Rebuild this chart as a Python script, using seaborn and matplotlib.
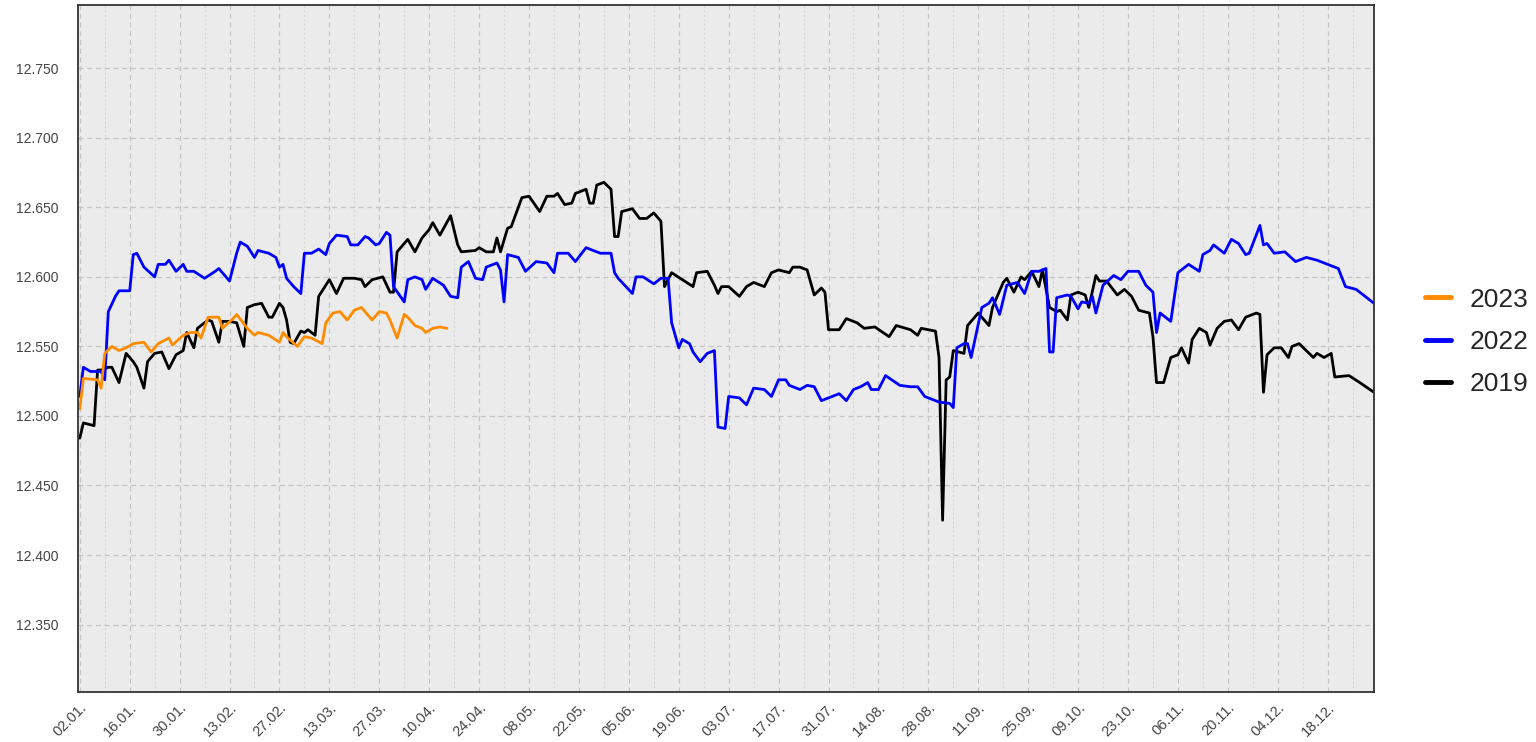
import pandas as pd
import matplotlib
matplotlib.use("Agg")
import matplotlib.pyplot as plt
import matplotlib.dates as mdates
from matplotlib.lines import Line2D
import seaborn as sns

# days counted from 02.01.
day_2023 = [0, 1, 5, 6, 7, 9, 11, 13, 15, 18, 20, 22, 25, 26, 29, 31, 33, 34, 36, 39,
            40, 43, 44, 47, 49, 50, 53, 56, 57, 58, 61, 63, 65, 68, 69, 71, 73, 75, 77, 79,
            80, 82, 84, 86, 87, 89, 91, 92, 94, 96, 97, 99, 101, 103]
val_2023 = [12.505, 12.527, 12.526, 12.520, 12.545, 12.550, 12.547, 12.549, 12.552, 12.553,
            12.546, 12.552, 12.556, 12.551, 12.558, 12.560, 12.560, 12.556, 12.571, 12.571,
            12.563, 12.570, 12.573, 12.563, 12.558, 12.560, 12.558, 12.553, 12.560, 12.557,
            12.550, 12.557, 12.556, 12.552, 12.567, 12.574, 12.575, 12.569, 12.576, 12.578,
            12.575, 12.569, 12.575, 12.574, 12.569, 12.556, 12.573, 12.571, 12.565, 12.563,
            12.560, 12.563, 12.564, 12.563]

day_2022 = [0, 1, 3, 6, 7, 8, 10, 11, 14, 15, 16, 18, 21, 22, 24, 25, 27, 29, 30, 32,
            35, 38, 39, 42, 44, 45, 47, 49, 50, 53, 55, 56, 57, 58, 60, 62, 63, 65, 67, 69,
            70, 72, 75, 76, 78, 80, 81, 83, 84, 86, 87, 88, 91, 92, 94, 96, 97, 99, 102, 104,
            106, 107, 109, 111, 113, 114, 117, 118, 119, 120, 123, 125, 128, 131, 133, 134, 137, 139, 142, 144,
            146, 149, 150, 151, 155, 156, 158, 161, 163, 165, 166, 168, 169, 171, 172, 174, 176, 178, 179, 181,
            182, 185, 187, 189, 192, 194, 196, 198, 199, 202, 204, 206, 208, 210, 213, 215, 217, 219, 221, 222,
            224, 226, 230, 233, 235, 237, 241, 244, 245, 246, 248, 249, 250, 253, 255, 256, 258, 260, 263, 265,
            267, 269, 271, 272, 273, 274, 277, 278, 280, 281, 283, 284, 285, 287, 290, 292, 294, 297, 299, 301,
            302, 303, 306, 308, 311, 314, 315, 317, 318, 321, 323, 325, 327, 328, 331, 332, 333, 335, 338, 341,
            344, 347, 349, 353, 355, 358, 363]
val_2022 = [12.514, 12.535, 12.532, 12.532, 12.526, 12.575, 12.586, 12.590, 12.590, 12.616,
            12.617, 12.607, 12.600, 12.609, 12.609, 12.612, 12.604, 12.609, 12.604, 12.604,
            12.599, 12.604, 12.606, 12.597, 12.617, 12.625, 12.622, 12.614, 12.619, 12.617,
            12.614, 12.607, 12.609, 12.599, 12.593, 12.588, 12.617, 12.617, 12.620, 12.616,
            12.624, 12.630, 12.629, 12.623, 12.623, 12.629, 12.628, 12.623, 12.624, 12.632,
            12.630, 12.593, 12.582, 12.598, 12.600, 12.598, 12.591, 12.599, 12.594, 12.586,
            12.585, 12.607, 12.611, 12.599, 12.598, 12.607, 12.610, 12.605, 12.582, 12.616,
            12.614, 12.604, 12.611, 12.610, 12.603, 12.617, 12.617, 12.611, 12.621, 12.619,
            12.617, 12.617, 12.603, 12.599, 12.588, 12.600, 12.600, 12.595, 12.599, 12.599,
            12.567, 12.549, 12.555, 12.552, 12.546, 12.539, 12.545, 12.547, 12.492, 12.491,
            12.514, 12.513, 12.508, 12.520, 12.519, 12.514, 12.526, 12.526, 12.522, 12.519,
            12.522, 12.521, 12.511, 12.513, 12.516, 12.511, 12.519, 12.521, 12.524, 12.519,
            12.519, 12.529, 12.522, 12.521, 12.521, 12.514, 12.510, 12.509, 12.506, 12.549,
            12.552, 12.552, 12.542, 12.578, 12.581, 12.585, 12.573, 12.594, 12.596, 12.588,
            12.604, 12.604, 12.606, 12.546, 12.546, 12.585, 12.587, 12.586, 12.577, 12.582,
            12.581, 12.586, 12.574, 12.594, 12.601, 12.598, 12.604, 12.604, 12.594, 12.589,
            12.560, 12.574, 12.568, 12.603, 12.609, 12.604, 12.616, 12.619, 12.623, 12.617,
            12.627, 12.624, 12.616, 12.617, 12.637, 12.623, 12.624, 12.617, 12.618, 12.611,
            12.614, 12.612, 12.610, 12.606, 12.593, 12.591, 12.581]

day_2019 = [0, 1, 4, 5, 6, 8, 9, 11, 13, 15, 16, 18, 19, 21, 23, 25, 27, 29, 30, 32,
            33, 36, 37, 39, 40, 42, 44, 46, 47, 49, 51, 53, 54, 56, 57, 58, 59, 60, 62, 63,
            64, 66, 67, 70, 72, 74, 77, 79, 80, 82, 85, 87, 88, 89, 92, 94, 96, 98, 99, 101,
            104, 106, 107, 111, 112, 114, 116, 117, 118, 120, 121, 124, 126, 129, 131, 133, 134, 136, 138, 139,
            142, 143, 144, 145, 147, 149, 150, 151, 152, 155, 157, 159, 161, 163, 164, 166, 169, 172, 173, 176,
            178, 179, 180, 182, 185, 187, 189, 192, 194, 196, 199, 200, 202, 204, 206, 208, 209, 210, 213, 215,
            218, 220, 223, 227, 229, 233, 235, 236, 240, 241, 242, 243, 244, 245, 248, 249, 252, 255, 256, 259,
            260, 262, 264, 265, 267, 269, 270, 272, 274, 275, 277, 278, 280, 282, 283, 285, 286, 288, 291, 293,
            295, 297, 300, 301, 302, 304, 306, 308, 309, 311, 312, 314, 316, 317, 319, 321, 323, 325, 327, 330,
            331, 332, 333, 335, 337, 339, 340, 342, 346, 347, 349, 351, 352, 356, 359, 363]
val_2019 = [12.484, 12.495, 12.493, 12.533, 12.533, 12.535, 12.535, 12.524, 12.545, 12.539,
            12.535, 12.520, 12.539, 12.545, 12.546, 12.534, 12.544, 12.547, 12.560, 12.549,
            12.563, 12.569, 12.568, 12.553, 12.568, 12.568, 12.567, 12.550, 12.578, 12.580,
            12.581, 12.571, 12.571, 12.581, 12.578, 12.569, 12.553, 12.552, 12.561, 12.560,
            12.562, 12.558, 12.586, 12.598, 12.588, 12.599, 12.599, 12.598, 12.593, 12.598,
            12.600, 12.589, 12.589, 12.618, 12.627, 12.618, 12.628, 12.634, 12.639, 12.630,
            12.644, 12.623, 12.618, 12.619, 12.621, 12.618, 12.618, 12.628, 12.618, 12.635,
            12.636, 12.657, 12.658, 12.647, 12.658, 12.658, 12.660, 12.652, 12.653, 12.660,
            12.663, 12.653, 12.653, 12.666, 12.668, 12.663, 12.629, 12.629, 12.647, 12.649,
            12.642, 12.642, 12.646, 12.640, 12.593, 12.603, 12.598, 12.593, 12.603, 12.604,
            12.594, 12.588, 12.593, 12.593, 12.586, 12.593, 12.596, 12.593, 12.603, 12.605,
            12.603, 12.607, 12.607, 12.605, 12.587, 12.592, 12.589, 12.562, 12.562, 12.570,
            12.567, 12.563, 12.564, 12.557, 12.565, 12.562, 12.558, 12.563, 12.561, 12.542,
            12.425, 12.526, 12.528, 12.547, 12.545, 12.565, 12.574, 12.565, 12.578, 12.596,
            12.599, 12.589, 12.600, 12.598, 12.604, 12.593, 12.605, 12.578, 12.575, 12.576,
            12.569, 12.587, 12.589, 12.587, 12.578, 12.601, 12.597, 12.597, 12.587, 12.591,
            12.586, 12.576, 12.574, 12.557, 12.524, 12.524, 12.542, 12.544, 12.549, 12.538,
            12.555, 12.563, 12.560, 12.551, 12.563, 12.568, 12.569, 12.562, 12.571, 12.574,
            12.573, 12.517, 12.544, 12.549, 12.549, 12.542, 12.550, 12.552, 12.542, 12.545,
            12.542, 12.545, 12.528, 12.529, 12.524, 12.517]

years = ["2019", "2022", "2023"]
colors = {"2023": "#ff8c00", "2022": "#0000ff", "2019": "#000000"}

frames = []
for year, days, vals in [("2019", day_2019, val_2019), ("2022", day_2022, val_2022),
                         ("2023", day_2023, val_2023)]:
    frames.append(pd.DataFrame({"day": days, "value": vals, "year": year}))
df = pd.concat(frames, ignore_index=True)
start = pd.Timestamp("2019-01-02")
df["date"] = start + pd.to_timedelta(df["day"], unit="D")

sns.set_style("white")
plt.rcParams["font.family"] = ["Liberation Sans", "DejaVu Sans"]

fig = plt.figure(figsize=(15.36, 7.42), dpi=100)
ax = fig.add_axes([78 / 1536, 50 / 742, 1296 / 1536, 687 / 742])
ax.set_facecolor("#ebebeb")

sns.lineplot(data=df, x="date", y="value", hue="year", hue_order=years,
             palette=colors, estimator=None, sort=False, linewidth=2.0,
             legend=False, ax=ax)

ax.set_xlim(start - pd.Timedelta(hours=12), pd.Timestamp("2019-12-31"))
ax.set_ylim(12.3015, 12.7955)
ax.set_yticks([12.35, 12.40, 12.45, 12.50, 12.55, 12.60, 12.65, 12.70, 12.75])
ax.yaxis.set_major_formatter(plt.FuncFormatter(lambda v, p: f"{v:.3f}"))

ax.set_xticks(pd.date_range("2019-01-02", "2019-12-31", freq="14D"))
ax.set_xticks(pd.date_range("2019-01-09", "2019-12-31", freq="14D"), minor=True)
ax.xaxis.set_major_formatter(mdates.DateFormatter("%d.%m."))
ax.set_xlabel("")
ax.set_ylabel("")

ax.grid(which="major", axis="both", color="#c4c4c4", linestyle=(0, (4, 3)), linewidth=0.9)
ax.grid(which="minor", axis="x", color="#d8d8d8", linestyle=(0, (2, 2)), linewidth=0.8)
ax.set_axisbelow(True)

for s in ax.spines.values():
    s.set_color("#333333")
    s.set_linewidth(1.3)

ax.tick_params(axis="both", which="major", direction="out", length=4, width=1,
               color="#333333", labelcolor="#444444", labelsize=10)
ax.tick_params(axis="y", pad=10)
ax.tick_params(axis="x", labelsize=10.5, pad=2)
ax.tick_params(axis="x", which="minor", length=0)
plt.setp(ax.get_xticklabels(), rotation=45, ha="right", rotation_mode="anchor")

handles = [Line2D([], [], color=colors[y], lw=3.5) for y in ["2023", "2022", "2019"]]
fig.legend(handles, ["2023", "2022", "2019"], loc="center left",
           bbox_to_anchor=(1401 / 1536, 1 - 342 / 742), frameon=False,
           fontsize=19, handlelength=1.0, handletextpad=0.7, labelspacing=0.7)

fig.savefig("out.png", dpi=100)
